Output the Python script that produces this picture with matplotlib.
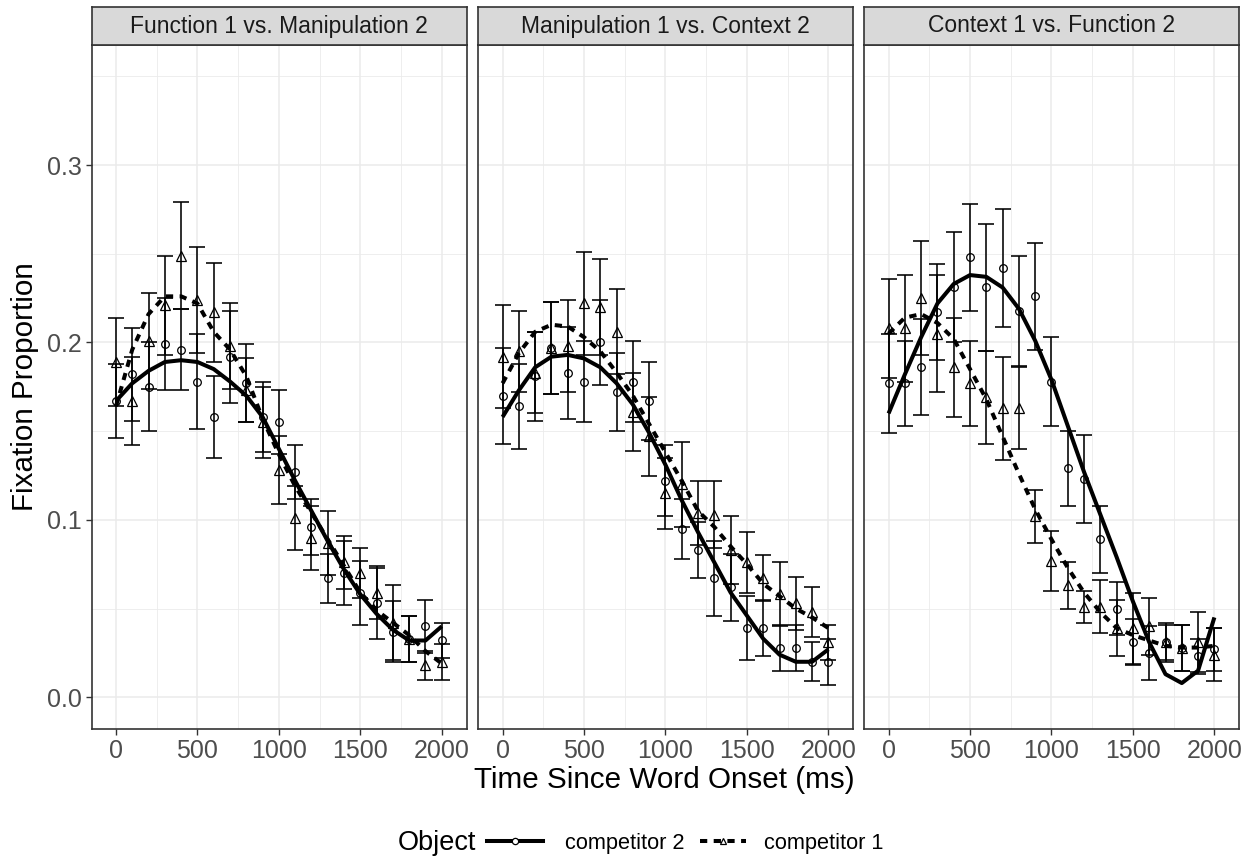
import numpy as np
import matplotlib
matplotlib.use('Agg')
import matplotlib.pyplot as plt
from matplotlib.lines import Line2D


# time bins (ms)
TIME = [0, 100, 200, 300, 400, 500, 600, 700, 800, 900, 1000,
        1100, 1200, 1300, 1400, 1500, 1600, 1700, 1800, 1900, 2000]

PANEL_TITLES = ['Function 1 vs. Manipulation 2',
                'Manipulation 1 vs. Context 2',
                'Context 1 vs. Function 2']

# panel 1: Function 1 vs. Manipulation 2
p1_comp2_mean = [0.167, 0.182, 0.175, 0.199, 0.196, 0.178, 0.158, 0.192, 0.177, 0.158, 0.155,
                 0.127, 0.096, 0.067, 0.070, 0.059, 0.053, 0.037, 0.033, 0.040, 0.032]
p1_comp2_se = [0.021, 0.026, 0.025, 0.026, 0.023, 0.027, 0.023, 0.026, 0.022, 0.020, 0.018,
               0.015, 0.016, 0.014, 0.018, 0.018, 0.020, 0.017, 0.013, 0.015, 0.010]
p1_comp1_mean = [0.189, 0.167, 0.201, 0.221, 0.249, 0.224, 0.217, 0.198, 0.173, 0.155, 0.128,
                 0.101, 0.090, 0.087, 0.076, 0.070, 0.059, 0.042, 0.033, 0.018, 0.020]
p1_comp1_se = [0.025, 0.025, 0.027, 0.028, 0.030, 0.030, 0.028, 0.024, 0.018, 0.020, 0.019,
               0.018, 0.018, 0.018, 0.015, 0.014, 0.015, 0.021, 0.013, 0.008, 0.010]
p1_comp2_fit = [0.167, 0.177, 0.184, 0.189, 0.190, 0.189, 0.185, 0.178, 0.170, 0.158, 0.140,
                0.122, 0.105, 0.088, 0.072, 0.058, 0.047, 0.038, 0.032, 0.032, 0.040]
p1_comp1_fit = [0.164, 0.196, 0.216, 0.226, 0.226, 0.222, 0.206, 0.196, 0.181, 0.157, 0.137,
                0.119, 0.104, 0.089, 0.074, 0.059, 0.049, 0.042, 0.035, 0.026, 0.019]

# panel 2: Manipulation 1 vs. Context 2
p2_comp2_mean = [0.170, 0.164, 0.181, 0.197, 0.183, 0.178, 0.200, 0.172, 0.178, 0.167, 0.122,
                 0.095, 0.083, 0.067, 0.062, 0.039, 0.039, 0.028, 0.028, 0.020, 0.020]
p2_comp2_se = [0.027, 0.024, 0.025, 0.026, 0.026, 0.023, 0.024, 0.022, 0.023, 0.022, 0.020,
               0.017, 0.016, 0.021, 0.019, 0.018, 0.016, 0.013, 0.013, 0.011, 0.013]
p2_comp1_mean = [0.192, 0.195, 0.183, 0.197, 0.198, 0.222, 0.220, 0.206, 0.161, 0.147, 0.115,
                 0.120, 0.104, 0.103, 0.083, 0.076, 0.067, 0.058, 0.053, 0.048, 0.031]
p2_comp1_se = [0.029, 0.023, 0.023, 0.026, 0.026, 0.029, 0.027, 0.024, 0.022, 0.022, 0.020,
               0.024, 0.018, 0.019, 0.019, 0.017, 0.013, 0.018, 0.015, 0.014, 0.010]
p2_comp2_fit = [0.158, 0.173, 0.186, 0.192, 0.193, 0.191, 0.186, 0.177, 0.165, 0.149, 0.131,
                0.111, 0.093, 0.076, 0.059, 0.046, 0.033, 0.024, 0.020, 0.020, 0.027]
p2_comp1_fit = [0.177, 0.194, 0.206, 0.210, 0.209, 0.203, 0.195, 0.183, 0.170, 0.154, 0.138,
                0.122, 0.105, 0.096, 0.085, 0.075, 0.064, 0.057, 0.050, 0.045, 0.039]

# panel 3: Context 1 vs. Function 2
p3_comp2_mean = [0.177, 0.177, 0.186, 0.217, 0.231, 0.248, 0.231, 0.242, 0.218, 0.226, 0.178,
                 0.129, 0.123, 0.089, 0.050, 0.031, 0.025, 0.031, 0.028, 0.023, 0.027]
p3_comp2_se = [0.028, 0.024, 0.027, 0.027, 0.031, 0.030, 0.036, 0.033, 0.031, 0.030, 0.025,
               0.021, 0.025, 0.019, 0.015, 0.013, 0.015, 0.010, 0.013, 0.010, 0.012]
p3_comp1_mean = [0.208, 0.208, 0.225, 0.205, 0.186, 0.177, 0.169, 0.163, 0.163, 0.102, 0.077,
                 0.063, 0.051, 0.051, 0.039, 0.039, 0.040, 0.031, 0.028, 0.031, 0.024]
p3_comp1_se = [0.028, 0.030, 0.032, 0.033, 0.028, 0.024, 0.026, 0.029, 0.023, 0.015, 0.017,
               0.013, 0.009, 0.015, 0.016, 0.020, 0.016, 0.011, 0.013, 0.017, 0.015]
p3_comp2_fit = [0.160, 0.182, 0.203, 0.222, 0.233, 0.238, 0.237, 0.231, 0.219, 0.201, 0.179,
                0.153, 0.127, 0.103, 0.079, 0.054, 0.031, 0.013, 0.008, 0.015, 0.045]
p3_comp1_fit = [0.205, 0.214, 0.216, 0.211, 0.202, 0.185, 0.168, 0.147, 0.126, 0.106, 0.089,
                0.073, 0.059, 0.048, 0.039, 0.035, 0.032, 0.029, 0.028, 0.028, 0.029]

LEGEND_LABELS = ['competitor 2', 'competitor 1']

W, H = 1252, 857
DASH = (0, (1.8, 1.6))


def main():
    plt.rcParams['font.family'] = ['Liberation Sans', 'DejaVu Sans']

    panels = [
        (p1_comp2_mean, p1_comp2_se, p1_comp1_mean, p1_comp1_se, p1_comp2_fit, p1_comp1_fit),
        (p2_comp2_mean, p2_comp2_se, p2_comp1_mean, p2_comp1_se, p2_comp2_fit, p2_comp1_fit),
        (p3_comp2_mean, p3_comp2_se, p3_comp1_mean, p3_comp1_se, p3_comp2_fit, p3_comp1_fit),
    ]

    fig = plt.figure(figsize=(W / 100, H / 100), dpi=100)
    lefts = [91.7, 478.3, 864.3]
    pw = 375
    top, bottom = 45, 729

    for i, (left, title, data) in enumerate(zip(lefts, PANEL_TITLES, panels)):
        c2m, c2s, c1m, c1s, c2f, c1f = data
        ax = fig.add_axes([left / W, (H - bottom) / H, pw / W, (bottom - top) / H])

        # error bars + points
        ax.errorbar(TIME, c2m, yerr=c2s, fmt='none', ecolor='black',
                    elinewidth=1.15, capsize=5.5, capthick=1.15, zorder=2)
        ax.errorbar(TIME, c1m, yerr=c1s, fmt='none', ecolor='black',
                    elinewidth=1.15, capsize=5.5, capthick=1.15, zorder=2)
        ax.plot(TIME, c2m, linestyle='none', marker='o', mfc='none', mec='black',
                ms=5.5, mew=0.9, zorder=3)
        ax.plot(TIME, c1m, linestyle='none', marker='^', mfc='none', mec='black',
                ms=6.5, mew=0.9, zorder=3)

        # fitted curves
        ax.plot(TIME, c2f, color='black', lw=2.9, zorder=4, solid_capstyle='butt')
        ax.plot(TIME, c1f, color='black', lw=2.9, linestyle=DASH, zorder=4,
                dash_capstyle='butt')

        ax.set_xlim(-149, 2153)
        ax.set_ylim(-0.0179, 0.3677)
        ax.set_xticks([0, 500, 1000, 1500, 2000])
        ax.set_xticks([250, 750, 1250, 1750], minor=True)
        ax.set_yticks([0.0, 0.1, 0.2, 0.3])
        ax.set_yticks([0.05, 0.15, 0.25, 0.35], minor=True)
        ax.set_yticklabels(['0.0', '0.1', '0.2', '0.3'])
        ax.grid(which='major', color='#EBEBEB', lw=1.1, zorder=0)
        ax.grid(which='minor', color='#EBEBEB', lw=0.6, zorder=0)
        ax.set_axisbelow(True)
        ax.tick_params(which='major', length=4.3, width=1.0, color='#333333',
                       labelcolor='#4D4D4D', labelsize=18, pad=3)
        ax.tick_params(which='minor', length=0)
        if i > 0:
            ax.tick_params(axis='y', left=False, labelleft=False)
        for sp in ax.spines.values():
            sp.set_color('#333333')
            sp.set_linewidth(1.2)

        # facet strip
        st = fig.add_axes([left / W, (H - top) / H, pw / W, 38 / H])
        st.set_facecolor('#D9D9D9')
        st.set_xticks([])
        st.set_yticks([])
        for sp in st.spines.values():
            sp.set_color('#333333')
            sp.set_linewidth(1.2)
        st.text(0.5, 0.5, title, ha='center', va='center', fontsize=16.5,
                color='#1A1A1A', transform=st.transAxes)

    # axis titles
    fig.text(664.5 / W, 1 - 780 / H, 'Time Since Word Onset (ms)', ha='center',
             va='center', fontsize=21.3)
    fig.text(25 / W, 1 - 387 / H, 'Fixation Proportion', ha='center', va='center',
             rotation=90, fontsize=21.3)

    # legend (title drawn at left, one legend per key)
    fig.text(398 / W, 1 - 843 / H, 'Object', ha='left', va='center', fontsize=19.5)
    h2 = Line2D([], [], color='black', lw=2.9, marker='o', mfc='white', mec='black',
                ms=4.5, mew=0.9)
    h1 = Line2D([], [], color='black', lw=2.9, linestyle=DASH, marker='^', mfc='white',
                mec='black', ms=5, mew=0.9)
    fig.legend([h2], [LEGEND_LABELS[0]], loc='center left',
               bbox_to_anchor=(487 / W, 1 - 843 / H), frameon=False,
               fontsize=15.7, handlelength=2.57, handletextpad=1.0,
               borderpad=0, borderaxespad=0)
    fig.legend([h1], [LEGEND_LABELS[1]], loc='center left',
               bbox_to_anchor=(700 / W, 1 - 843 / H), frameon=False,
               fontsize=15.7, handlelength=2.1, handletextpad=0.83,
               borderpad=0, borderaxespad=0)

    fig.savefig('out.png', dpi=100)


if __name__ == "__main__":
    main()
